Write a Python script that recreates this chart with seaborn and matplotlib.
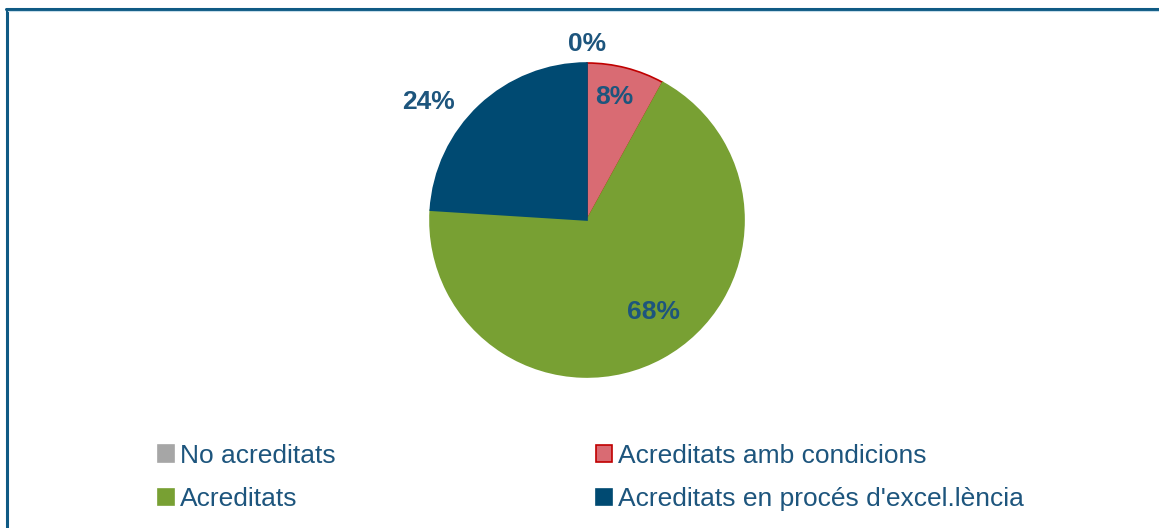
import numpy as np
import matplotlib
matplotlib.use("Agg")
import matplotlib.pyplot as plt
from matplotlib.lines import Line2D
import seaborn as sns

# data
categories = ["No acreditats", "Acreditats amb condicions", "Acreditats",
              "Acreditats en procés d'excel.lència"]
values = [0, 8, 68, 24]
pct_labels = ["0%", "8%", "68%", "24%"]

# style
face_colors = ["#A6A6A6", "#D96B73", "#78A033", "#004A72"]
edge_colors = ["#A6A6A6", "#C00000", "#78A033", "#004A72"]
text_color = "#1D557D"
border_color = "#0F5A84"
# label placement: (radius factor, angle shift in degrees)
label_place = [(1.12, 0), (0.80, 2), (0.72, 7), (1.26, 10)]

sns.set_theme(style="white")
plt.rcParams["font.family"] = ["Liberation Sans", "DejaVu Sans"]

fig = plt.figure(figsize=(11.59, 5.28), dpi=100)
ax = fig.add_axes([430 / 1159, 151 / 528, 314 / 1159, 314 / 528])

wedges, _ = ax.pie(values, colors=face_colors, startangle=90, counterclock=False,
                   radius=1, wedgeprops=dict(linewidth=1.2))
for w, ec in zip(wedges, edge_colors):
    w.set_edgecolor(ec)
ax.set_xlim(-1, 1)
ax.set_ylim(-1, 1)
ax.set_aspect("equal")
ax.axis("off")

# percentage labels
total = sum(values)
start = 90.0
for v, lab, (rf, dang) in zip(values, pct_labels, label_place):
    sweep = v / total * 360
    mid = np.deg2rad(start - sweep / 2 + dang)
    start -= sweep
    ax.text(rf * np.cos(mid), rf * np.sin(mid), lab, ha="center", va="center",
            fontsize=19, fontweight="bold", color=text_color, clip_on=False)

# legend: rows are (0, 1) and (2, 3); matplotlib fills column by column
order = [0, 2, 1, 3]
leg = fig.legend([wedges[i] for i in order], [categories[i] for i in order],
                 ncol=2, loc="center left",
                 bbox_to_anchor=(158 / 1159, 1 - 477.5 / 528), frameon=False,
                 fontsize=19, handlelength=0.6, handleheight=0.6,
                 handletextpad=0.25, columnspacing=9.85, labelspacing=0.74,
                 borderpad=0, borderaxespad=0)
for t in leg.get_texts():
    t.set_color(text_color)

# frame lines (top and left)
fig.add_artist(Line2D([6 / 1159, 1], [1 - 8.5 / 528, 1 - 8.5 / 528],
                      color=border_color, lw=2.2, transform=fig.transFigure))
fig.add_artist(Line2D([6.5 / 1159, 6.5 / 1159], [0, 1 - 8.5 / 528],
                      color=border_color, lw=2.2, transform=fig.transFigure))
fig.add_artist(Line2D([8 / 1159, 1], [1 - 10.5 / 528, 1 - 10.5 / 528],
                      color="#C5DCEA", lw=0.8, transform=fig.transFigure))

fig.savefig("out.png", dpi=100)
